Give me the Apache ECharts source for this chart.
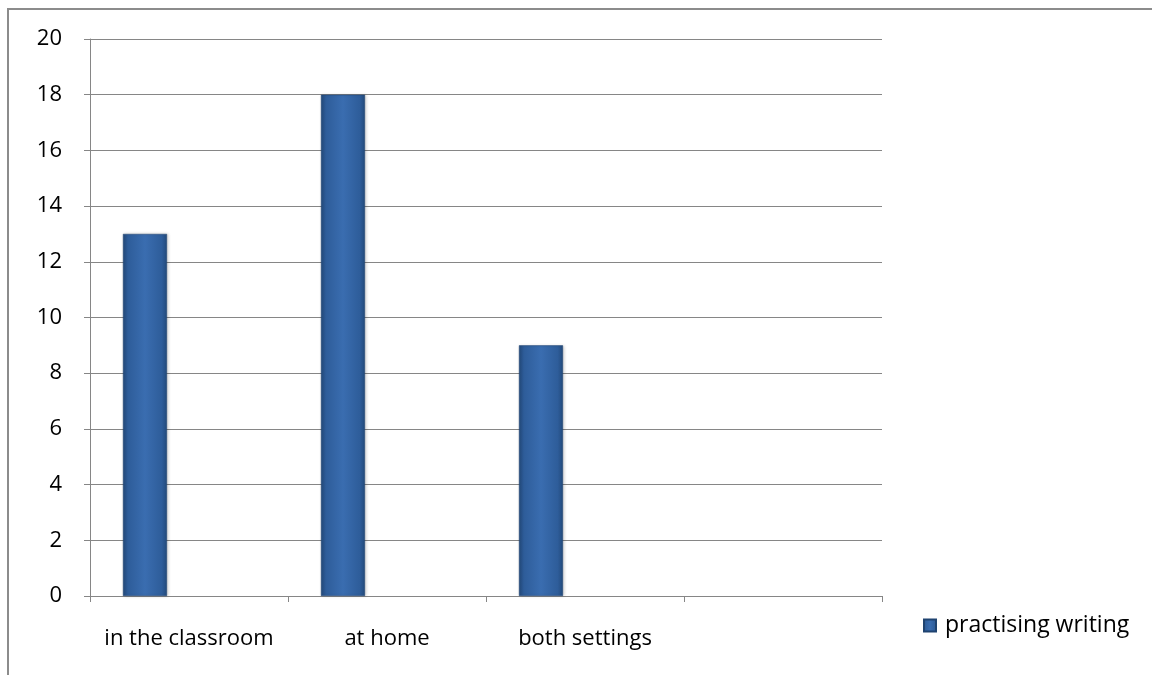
<!DOCTYPE html>
<html>
<head>
<meta charset="utf-8">
<script src="https://cdn.jsdelivr.net/npm/echarts@6/dist/echarts.min.js"></script>
<style>
  html, body { margin: 0; padding: 0; background: #fff; }
  #chart { width: 1152px; height: 675px; }
</style>
</head>
<body>
<div id="chart"></div>
<script>
// Where pupils practise writing
const categories = ['in the classroom', 'at home', 'both settings', ''];
const seriesName = 'practising writing';
const practisingWriting = [13, 18, 9, null];
const yTicks = { min: 0, max: 20, interval: 2 };

const FONT = '"Open Sans", "Liberation Sans", sans-serif';

// Cylinder-like shading across the bar width
const barFill = new echarts.graphic.LinearGradient(0, 0, 1, 0, [
  { offset: 0, color: '#234a7c' },
  { offset: 0.12, color: '#2e5d9a' },
  { offset: 0.5, color: '#3a6db0' },
  { offset: 0.88, color: '#2e5d9a' },
  { offset: 1, color: '#234a7c' }
]);

const chart = echarts.init(document.getElementById('chart'), null, { renderer: 'canvas' });

chart.setOption({
  animation: false,
  backgroundColor: '#fff',
  grid: { left: 90, right: 270, top: 39, bottom: 79, containLabel: false },
  xAxis: {
    type: 'category',
    data: categories,
    boundaryGap: true,
    axisLine: { lineStyle: { color: '#868686', width: 1 } },
    axisTick: { show: true, alignWithLabel: false, length: 6, lineStyle: { color: '#868686' } },
    axisLabel: { color: '#000', fontFamily: FONT, fontSize: 22, margin: 32, interval: 0 },
    splitLine: { show: false }
  },
  yAxis: {
    type: 'value',
    min: yTicks.min,
    max: yTicks.max,
    interval: yTicks.interval,
    axisLine: { show: true, lineStyle: { color: '#868686', width: 1 } },
    axisTick: { show: true, length: 6, lineStyle: { color: '#868686' } },
    axisLabel: { color: '#000', fontFamily: FONT, fontSize: 22, margin: 28 },
    splitLine: { show: true, lineStyle: { color: '#868686', width: 1 } }
  },
  legend: {
    data: [{ name: seriesName, icon: 'rect' }],
    orient: 'vertical',
    left: 918,
    top: 609,
    itemWidth: 12,
    itemHeight: 12,
    itemGap: 10,
    textStyle: { color: '#000', fontFamily: FONT, fontSize: 23, padding: [0, 0, 0, 4] }
  },
  series: [
    {
      name: seriesName,
      type: 'bar',
      data: practisingWriting,
      barGap: '0%',
      barCategoryGap: '33.3%',
      itemStyle: {
        color: barFill,
        borderColor: '#1f4370',
        borderWidth: 0.5,
        shadowColor: 'rgba(0,0,0,0.18)',
        shadowBlur: 3,
        shadowOffsetX: 1
      }
    },
    // Two empty companion series keep the bar slots in each band
    { name: 's2', type: 'bar', data: [null, null, null, null] },
    { name: 's3', type: 'bar', data: [null, null, null, null] }
  ],
  graphic: [
    {
      type: 'polyline',
      shape: { points: [[8, 676], [8, 9], [1153, 9]] },
      style: { stroke: '#8c8c8c', lineWidth: 2, fill: null },
      silent: true
    }
  ]
});
</script>
</body>
</html>
